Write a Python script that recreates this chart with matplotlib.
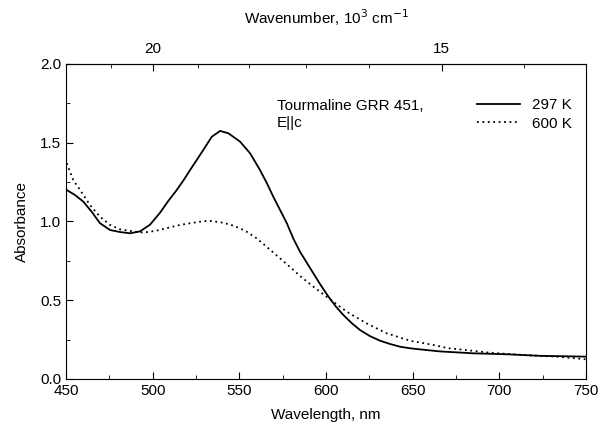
import matplotlib
matplotlib.use("Agg")
import matplotlib.pyplot as plt
from matplotlib.ticker import MultipleLocator, FixedLocator, FormatStrFormatter
import numpy as np

plt.rcParams['font.family'] = ['Liberation Sans', 'DejaVu Sans']

# spectre a 297 K (trait plein)
wl_297 = [450.4, 455.2, 460.0, 464.8, 469.6, 475.4, 481.2, 486.9, 492.7, 498.5,
          504.2, 509.0, 513.9, 517.7, 521.6, 525.4, 529.2, 534.1, 538.9, 543.7,
          550.4, 556.2, 561.9, 565.8, 569.6, 573.5, 577.4, 581.2, 585.0, 588.8,
          592.7, 597.0, 601.4, 605.7, 610.0, 614.8, 619.6, 625.4, 631.2, 637.0,
          642.7, 648.5, 654.3, 665.8, 685.0, 704.3, 723.5, 750.0]
abs_297 = [1.20, 1.168, 1.126, 1.062, 0.989, 0.946, 0.933, 0.925, 0.937, 0.98,
           1.055, 1.13, 1.20, 1.26, 1.327, 1.39, 1.454, 1.538, 1.575, 1.56,
           1.507, 1.433, 1.327, 1.245, 1.157, 1.073, 0.989, 0.89, 0.808, 0.74,
           0.671, 0.595, 0.523, 0.46, 0.406, 0.355, 0.311, 0.272, 0.243, 0.222,
           0.205, 0.195, 0.188, 0.175, 0.163, 0.157, 0.147, 0.142]

# spectre a 600 K (pointille)
wl_600 = [450.4, 454.2, 458.1, 463.8, 469.6, 475.4, 481.2, 486.9, 494.6, 502.3,
          510.0, 515.8, 521.6, 527.0, 532.1, 540.8, 545.5, 550.4, 555.0, 560.0,
          566.7, 573.5, 581.2, 585.0, 592.7, 602.3, 612.0, 623.5, 635.0, 648.5,
          662.0, 670.6, 677.3, 694.6, 713.9, 733.2, 750.0]
abs_600 = [1.37, 1.263, 1.20, 1.105, 1.03, 0.978, 0.95, 0.94, 0.929, 0.942,
           0.963, 0.978, 0.989, 0.998, 1.005, 0.992, 0.977, 0.957, 0.93, 0.893,
           0.83, 0.766, 0.692, 0.654, 0.586, 0.506, 0.427, 0.353, 0.29, 0.243,
           0.216, 0.195, 0.188, 0.167, 0.152, 0.142, 0.125]

top_major = [20, 15]
top_minor = [21, 19, 18, 17, 16, 14]

fig = plt.figure(figsize=(6, 4.32), dpi=100)
ax = fig.add_axes([0.11, 0.1227, 0.8667, 0.7292])

ax.plot(wl_297, abs_297, color='black', lw=1.3, ls='-', label='297 K')
ax.plot(wl_600, abs_600, color='black', lw=1.3, ls=(0, (1, 2)), label='600 K')

ax.set_xlim(450, 750)
ax.set_ylim(0, 2.0)
ax.xaxis.set_major_locator(MultipleLocator(50))
ax.xaxis.set_minor_locator(MultipleLocator(25))
ax.yaxis.set_major_locator(MultipleLocator(0.5))
ax.yaxis.set_minor_locator(MultipleLocator(0.25))
ax.yaxis.set_major_formatter(FormatStrFormatter('%.1f'))
ax.tick_params(which='both', direction='in', top=False, right=False, labelsize=11)
ax.tick_params(which='major', length=5)
ax.tick_params(which='minor', length=3)

ax.set_xlabel('Wavelength, nm', fontsize=11, labelpad=7)
ax.set_ylabel('Absorbance', fontsize=11, labelpad=8)

# axe du haut en nombre d'onde
sec = ax.secondary_xaxis('top', functions=(lambda x: 1e4 / np.asarray(x, float),
                                           lambda k: 1e4 / np.asarray(k, float)))
sec.xaxis.set_major_locator(FixedLocator(top_major))
sec.xaxis.set_minor_locator(FixedLocator(top_minor))
sec.xaxis.set_major_formatter(FormatStrFormatter('%d'))
sec.tick_params(which='both', direction='in', labelsize=11, pad=6)
sec.tick_params(which='major', length=5)
sec.tick_params(which='minor', length=3)
sec.set_xlabel('Wavenumber, 10$^{3}$ cm$^{-1}$', fontsize=11, labelpad=13)

ax.text(0.405, 0.89, 'Tourmaline GRR 451,\nE||c', transform=ax.transAxes,
        fontsize=11, va='top', linespacing=1.3)
ax.legend(loc='upper right', bbox_to_anchor=(1.0, 0.935), frameon=False,
          fontsize=11, handlelength=2.8, labelspacing=0.3)

fig.savefig('out.png', dpi=100)
